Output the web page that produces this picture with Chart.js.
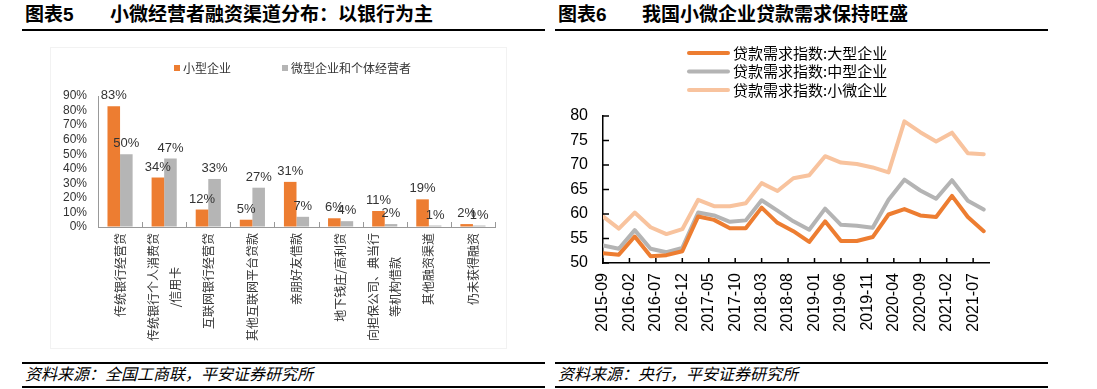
<!DOCTYPE html>
<html>
<head>
<meta charset="utf-8">
<script src="https://cdn.jsdelivr.net/npm/chart.js@4.4.1/dist/chart.umd.min.js"></script>
<style>
  html, body { margin: 0; padding: 0; background: #fff; }
  body { width: 1097px; height: 389px; position: relative; overflow: hidden;
         font-family: "Liberation Sans", "Noto Sans CJK SC", sans-serif; color: #000; }
  .title { position: absolute; top: 3px; font-size: 19px; font-weight: bold; line-height: 24px; white-space: nowrap; }
  .rule { position: absolute; height: 2px; background: #000; }
  .src { position: absolute; top: 366px; font-size: 16px; font-style: italic; line-height: 18px; white-space: nowrap; }
  .frame { position: absolute; border: 1px solid #f2f2f2; }
  canvas { position: absolute; top: 35px; }
</style>
</head>
<body>
<div class="title" style="left:25px">图表5</div>
<div class="title" style="left:110px">小微经营者融资渠道分布：以银行为主</div>
<div class="rule" style="left:22px;width:523px;top:29px"></div>
<div class="frame" style="left:50px;top:47px;width:455px;height:300px"></div>

<div class="title" style="left:558px">图表6</div>
<div class="title" style="left:642px">我国小微企业贷款需求保持旺盛</div>
<div class="rule" style="left:555px;width:493px;top:29px"></div>

<canvas id="barChart" width="545" height="320" style="left:0"></canvas>
<canvas id="lineChart" width="547" height="320" style="left:550px"></canvas>

<div class="rule" style="left:22px;width:523px;top:362px"></div>
<div class="src" style="left:25px">资料来源：全国工商联，平安证券研究所</div>
<div class="rule" style="left:22px;width:523px;top:386px"></div>

<div class="rule" style="left:555px;width:493px;top:362px"></div>
<div class="src" style="left:558px">资料来源：央行，平安证券研究所</div>
<div class="rule" style="left:555px;width:493px;top:386px"></div>

<script>
'use strict';

// 图表5 融资渠道（%）
const barCategories = [
    ['传统银行经营贷'],
    ['传统银行个人消费贷', '/信用卡'],
    ['互联网银行经营贷'],
    ['其他互联网平台贷款'],
    ['亲朋好友借款'],
    ['地下钱庄/高利贷'],
    ['向担保公司、典当行', '等机构借款'],
    ['其他融资渠道'],
    ['仍未获得融资']
];
const barSeriesNames = ['小型企业', '微型企业和个体经营者'];
const smallBizShare = [83, 34, 12, 5, 31, 6, 11, 19, 2];
const microBizShare = [50, 47, 33, 27, 7, 4, 2, 1, 1];

// 图表6 贷款需求指数（季度）
const quarters = [
    '2015-09', '2015-12', '2016-03', '2016-06', '2016-09', '2016-12',
    '2017-03', '2017-06', '2017-09', '2017-12', '2018-03', '2018-06',
    '2018-09', '2018-12', '2019-03', '2019-06', '2019-09', '2019-12',
    '2020-03', '2020-06', '2020-09', '2020-12', '2021-03', '2021-06', '2021-09'
];
const lineSeriesNames = ['贷款需求指数:大型企业', '贷款需求指数:中型企业', '贷款需求指数:小微企业'];
const largeDemand = [52.0, 51.7, 55.4, 51.4, 51.6, 52.4, 59.5, 58.8, 57.1, 57.1, 61.3, 58.2, 56.5,
                     54.3, 58.5, 54.5, 54.5, 55.3, 59.9, 61.0, 59.7, 59.4, 63.7, 59.4, 56.5];
const mediumDemand = [53.6, 52.9, 56.7, 52.9, 52.2, 53.1, 60.3, 59.7, 58.4, 58.7, 62.8, 60.7, 58.5,
                      56.8, 61.1, 57.8, 57.6, 57.2, 62.9, 67.0, 64.8, 63.1, 66.9, 62.7, 60.9];
const smallDemand = [59.5, 57.0, 60.3, 57.3, 55.9, 56.9, 62.9, 61.6, 61.6, 62.2, 66.3, 64.7, 67.3,
                     67.9, 71.8, 70.5, 70.2, 69.5, 68.5, 78.9, 76.7, 74.8, 76.6, 72.4, 72.2];
const monthTickLabels = ['2015-09', '2016-02', '2016-07', '2016-12', '2017-05', '2017-10', '2018-03',
                         '2018-08', '2019-01', '2019-06', '2019-11', '2020-04', '2020-09', '2021-02', '2021-07'];

const ORANGE = '#ED7D31';
const GREY = '#B5B5B5';
const LINE_GREY = '#B4B4B4';
const PEACH = '#F8C39E';
const LATIN = '"Liberation Sans", "Noto Sans CJK SC", sans-serif';
const CJK = '"Noto Sans CJK SC", "Liberation Sans", sans-serif';

Chart.defaults.color = '#000';
Chart.defaults.font.family = LATIN;

function monthIndex(s) {
    const [y, m] = s.split('-').map(Number);
    return (y - 2015) * 12 + m - 9;
}

// ---- 图表5 ----
const barValueLabels = {
    id: 'barValueLabels',
    afterDatasetsDraw(chart) {
        const ctx = chart.ctx;
        ctx.save();
        ctx.font = '13px ' + LATIN;
        ctx.fillStyle = '#333';
        ctx.textAlign = 'center';
        ctx.textBaseline = 'bottom';
        chart.data.datasets.forEach((ds, i) => {
            chart.getDatasetMeta(i).data.forEach((bar, j) => {
                ctx.fillText(ds.data[j] + '%', bar.x, bar.y - 4);
            });
        });
        ctx.restore();
    }
};

const barAxisExtras = {
    id: 'barAxisExtras',
    afterDraw(chart) {
        const ctx = chart.ctx;
        const xs = chart.scales.x;
        const n = chart.data.labels.length;
        ctx.save();
        // 分类间刻度（朝上）
        ctx.strokeStyle = '#999';
        ctx.lineWidth = 1;
        for (let i = 0; i <= n; i++) {
            const x = Math.round(xs.left + i * xs.width / n) + 0.5;
            ctx.beginPath();
            ctx.moveTo(x, xs.top);
            ctx.lineTo(x, xs.top - 5);
            ctx.stroke();
        }
        // 竖排分类标签
        ctx.font = '12px ' + CJK;
        ctx.fillStyle = '#333';
        ctx.textAlign = 'center';
        ctx.textBaseline = 'middle';
        barCategories.forEach((lines, i) => {
            const x = xs.getPixelForValue(i);
            const maxW = Math.max(...lines.map(l => ctx.measureText(l).width));
            ctx.save();
            ctx.translate(x, xs.top + 6);
            ctx.rotate(-Math.PI / 2);
            lines.forEach((l, k) => {
                ctx.fillText(l, -maxW / 2, (k - (lines.length - 1) / 2) * 22);
            });
            ctx.restore();
        });
        // 图例
        ctx.font = '12px ' + CJK;
        ctx.textAlign = 'left';
        const legendX = [174, 282];
        chart.data.datasets.forEach((ds, i) => {
            ctx.fillStyle = ds.backgroundColor;
            ctx.fillRect(legendX[i], 30, 6, 6);
            ctx.fillStyle = '#333';
            ctx.fillText(ds.label, legendX[i] + 9, 33);
        });
        ctx.restore();
    }
};

new Chart(document.getElementById('barChart'), {
    type: 'bar',
    data: {
        labels: barCategories.map(l => l.join('')),
        datasets: [
            { label: barSeriesNames[0], data: smallBizShare, backgroundColor: ORANGE },
            { label: barSeriesNames[1], data: microBizShare, backgroundColor: GREY }
        ]
    },
    options: {
        responsive: false,
        animation: false,
        devicePixelRatio: 1,
        layout: { padding: { left: 63, right: 50, top: 61, bottom: 128 } },
        datasets: { bar: { categoryPercentage: 0.57, barPercentage: 1.0, borderWidth: 0 } },
        plugins: { legend: { display: false }, tooltip: { enabled: false } },
        scales: {
            x: {
                grid: { display: true, drawOnChartArea: false, drawTicks: false },
                border: { display: true, color: '#999', width: 1 },
                ticks: { display: false }
            },
            y: {
                min: 0,
                max: 90,
                grid: { display: true, drawOnChartArea: false, drawTicks: false },
                border: { display: true, color: '#999', width: 1 },
                ticks: { stepSize: 10, autoSkip: false, padding: 11, color: '#333', font: { size: 12 },
                         callback: v => v + '%' },
                afterFit: s => { s.width = 35; }
            }
        }
    },
    plugins: [barValueLabels, barAxisExtras]
});

// ---- 图表6 ----
const lineAxisExtras = {
    id: 'lineAxisExtras',
    afterDraw(chart) {
        const ctx = chart.ctx;
        const xs = chart.scales.x;
        const ys = chart.scales.y;
        ctx.save();
        ctx.strokeStyle = '#000';
        ctx.lineWidth = 1.5;
        ys.ticks.forEach(t => {
            const y = ys.getPixelForValue(t.value);
            ctx.beginPath();
            ctx.moveTo(ys.right, y);
            ctx.lineTo(ys.right + 6, y);
            ctx.stroke();
        });
        xs.ticks.forEach(t => {
            const x = xs.getPixelForValue(t.value);
            ctx.beginPath();
            ctx.moveTo(x, xs.top);
            ctx.lineTo(x, xs.top - 5);
            ctx.stroke();
        });
        // 图例
        ctx.font = '15px ' + CJK;
        ctx.textAlign = 'left';
        ctx.textBaseline = 'middle';
        ctx.lineWidth = 4;
        ctx.lineCap = 'round';
        chart.data.datasets.forEach((ds, i) => {
            const y = 18 + i * 18.5;
            ctx.strokeStyle = ds.borderColor;
            ctx.beginPath();
            ctx.moveTo(139, y);
            ctx.lineTo(178, y);
            ctx.stroke();
            ctx.fillStyle = '#000';
            ctx.fillText(ds.label, 183, y);
        });
        ctx.restore();
    }
};

function toPoints(values) {
    return values.map((v, i) => ({ x: monthIndex(quarters[i]), y: v }));
}

const lineStyle = { borderWidth: 4, pointRadius: 0, tension: 0, fill: false,
                    borderJoinStyle: 'round', borderCapStyle: 'round' };

new Chart(document.getElementById('lineChart'), {
    type: 'line',
    data: {
        datasets: [
            Object.assign({ label: lineSeriesNames[0], data: toPoints(largeDemand), borderColor: ORANGE }, lineStyle),
            Object.assign({ label: lineSeriesNames[1], data: toPoints(mediumDemand), borderColor: LINE_GREY }, lineStyle),
            Object.assign({ label: lineSeriesNames[2], data: toPoints(smallDemand), borderColor: PEACH }, lineStyle)
        ]
    },
    options: {
        responsive: false,
        animation: false,
        devicePixelRatio: 1,
        layout: { padding: { left: 20, right: 108, top: 81, bottom: 0 } },
        plugins: { legend: { display: false }, tooltip: { enabled: false } },
        scales: {
            x: {
                type: 'linear',
                min: 0,
                max: 73,
                grid: { display: true, drawOnChartArea: false, drawTicks: false },
                border: { display: true, color: '#000', width: 1.5 },
                ticks: {
                    stepSize: 5,
                    includeBounds: false,
                    autoSkip: false,
                    minRotation: 90,
                    maxRotation: 90,
                    padding: 10,
                    font: { size: 16 },
                    callback: v => monthTickLabels.find(l => monthIndex(l) === v) || ''
                },
                afterFit: s => { s.height = 92; }
            },
            y: {
                min: 50,
                max: 80,
                grid: { display: true, drawOnChartArea: false, drawTicks: false },
                border: { display: true, color: '#000', width: 1.5 },
                ticks: { stepSize: 5, autoSkip: false, padding: 15, font: { size: 16 } },
                afterFit: s => { s.width = 33; }
            }
        }
    },
    plugins: [lineAxisExtras]
});
</script>
</body>
</html>
